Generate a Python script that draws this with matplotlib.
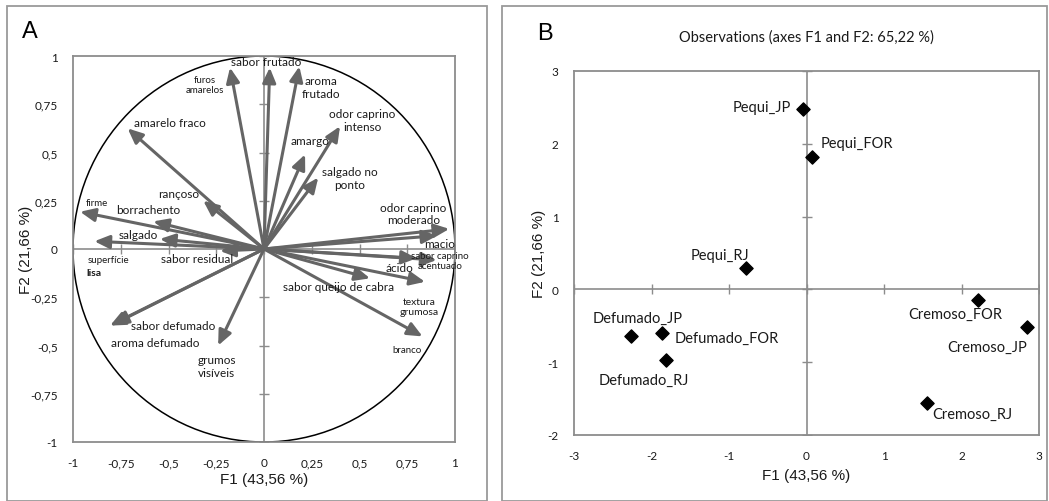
import numpy as np
import matplotlib
matplotlib.use("Agg")
import matplotlib.pyplot as plt
from matplotlib.patches import Rectangle, Circle

# variables (correlation circle) - arrow tips
var_names = ['sabor frutado', 'furos amarelos', 'aroma frutado', 'odor caprino intenso',
             'amargo', 'salgado no ponto', 'amarelo fraco', 'rançoso', 'firme',
             'borrachento', 'superfície lisa', 'salgado', 'sabor residual',
             'odor caprino moderado', 'macio', 'ácido', 'sabor caprino acentuado',
             'textura grumosa', 'sabor queijo de cabra', 'branco',
             'sabor defumado', 'aroma defumado', 'grumos visíveis']
var_f1 = [0.03, -0.178, 0.185, 0.398, 0.215, 0.284, -0.714, -0.318, -0.963,
          -0.58, -0.888, -0.545, -0.23, 0.97, 0.907, 0.80, 0.904, 0.843, 0.555,
          0.83, -0.79, -0.806, -0.24]
var_f2 = [0.94, 0.94, 0.946, 0.636, 0.49, 0.37, 0.625, 0.25, 0.193,
          0.143, 0.04, 0.052, -0.01, 0.104, 0.069, -0.048, -0.057, -0.17, -0.152,
          -0.453, -0.39, -0.397, -0.50]

# observations
obs_names = ['Pequi_JP', 'Pequi_FOR', 'Pequi_RJ', 'Defumado_JP', 'Defumado_FOR',
             'Defumado_RJ', 'Cremoso_FOR', 'Cremoso_JP', 'Cremoso_RJ']
obs_f1 = [-0.05, 0.07, -0.78, -2.27, -1.87, -1.81, 2.21, 2.84, 1.55]
obs_f2 = [2.48, 1.82, 0.30, -0.64, -0.60, -0.97, -0.14, -0.52, -1.56]

a_ticks = [-1, -0.75, -0.5, -0.25, 0, 0.25, 0.5, 0.75, 1]
a_ticklabels = ['-1', '-0,75', '-0,5', '-0,25', '0', '0,25', '0,5', '0,75', '1']
b_xticks = [-3, -2, -1, 0, 1, 2, 3]
b_yticks = [-2, -1, 0, 1, 2, 3]

# label placement (data coords) for panel A
lab_a = [
    ('sabor frutado', 0.01, 0.974, 8.5),
    ('furos\namarelos', -0.309, 0.85, 7),
    ('aroma\nfrutado', 0.298, 0.839, 8.5),
    ('odor caprino\nintenso', 0.516, 0.668, 8.5),
    ('amargo', 0.241, 0.561, 8.5),
    ('salgado no\nponto', 0.45, 0.368, 8.5),
    ('amarelo fraco', -0.492, 0.656, 8.5),
    ('rançoso', -0.449, 0.29, 8.5),
    ('firme', -0.876, 0.242, 7),
    ('borrachento', -0.606, 0.204, 8.5),
    ('salgado', -0.658, 0.074, 8.5),
    ('superfície', -0.815, -0.055, 7),
    ('sabor residual', -0.349, -0.048, 8.5),
    ('odor caprino\nmoderado', 0.782, 0.184, 8.5),
    ('macio', 0.921, 0.026, 8.5),
    ('sabor caprino\nacentuado', 0.921, -0.062, 7),
    ('ácido', 0.712, -0.095, 8.5),
    ('sabor queijo de cabra', 0.389, -0.193, 8.5),
    ('textura\ngrumosa', 0.813, -0.299, 7.5),
    ('sabor defumado', -0.475, -0.394, 8.5),
    ('aroma defumado', -0.571, -0.487, 8.5),
    ('grumos\nvisíveis', -0.248, -0.607, 8.5),
    ('branco', 0.747, -0.523, 7),
]
lab_b = [(-0.576, 2.506), (0.648, 2.01), (-1.117, 0.479), (-2.18, -0.395),
         (-1.03, -0.67), (-2.097, -1.246), (1.924, -0.335), (2.33, -0.795),
         (2.14, -1.715)]

lbl_font = ['Lato', 'DejaVu Sans']
ax_font = ['Liberation Sans', 'DejaVu Sans']
grey = '#8c8c8c'
arrow_col = '#656565'
txt_col = '#1a1a1a'

W, H = 1049, 502
fig = plt.figure(figsize=(W / 100, H / 100), dpi=100)
fig.patch.set_facecolor('white')

# panel borders
for x0, x1 in [(7, 487), (502, 1047)]:
    fig.patches.append(Rectangle((x0 / W, 0), (x1 - x0) / W, (H - 12) / H + 0.01,
                                 transform=fig.transFigure, fill=False,
                                 edgecolor='#9a9a9a', lw=1.3, clip_on=False))

# ---------------- panel A
axA = fig.add_axes([73 / W, (H - 443) / H, 382 / W, 386 / H])
axA.set_xlim(-1, 1)
axA.set_ylim(-1, 1)
axA.axhline(0, color=grey, lw=1.2, zorder=1)
axA.axvline(0, color=grey, lw=1.2, zorder=1)
axA.plot(a_ticks, np.zeros(len(a_ticks)), ls='none', marker='|', ms=7, color=grey, mew=1)
axA.plot(np.zeros(len(a_ticks)), a_ticks, ls='none', marker='_', ms=7, color=grey, mew=1)
axA.add_patch(Circle((0, 0), 1, fill=False, edgecolor='black', lw=1.1, zorder=2))
for fx, fy in zip(var_f1, var_f2):
    axA.annotate('', xy=(fx, fy), xytext=(0, 0),
                 arrowprops=dict(arrowstyle='-|>,head_length=0.9,head_width=0.4',
                                 color=arrow_col, lw=2.2, shrinkA=0, shrinkB=0,
                                 mutation_scale=10), zorder=3)
for txt, tx, ty, fs in lab_a:
    axA.text(tx, ty, txt, ha='center', va='center', fontsize=fs, family=lbl_font,
             color=txt_col, linespacing=1.15, zorder=4)
axA.text(-0.932, -0.124, 'lisa', ha='left', va='center', fontsize=7.5,
         fontweight='bold', family=lbl_font, color=txt_col)
axA.set_xticks(a_ticks)
axA.set_xticklabels(a_ticklabels, family=lbl_font, fontsize=8.5)
axA.set_yticks(a_ticks)
axA.set_yticklabels(a_ticklabels, family=lbl_font, fontsize=8.5)
axA.tick_params(length=0, pad=11, labelcolor=txt_col)
for s in axA.spines.values():
    s.set_color(grey)
    s.set_linewidth(1.3)
axA.set_xlabel('F1 (43,56 %)', family=ax_font, fontsize=11, labelpad=3, color=txt_col)
axA.set_ylabel('F2 (21,66 %)', family=ax_font, fontsize=11, labelpad=-2, color=txt_col)
fig.text(30 / W, 1 - 32 / H, 'A', family=ax_font, fontsize=17, ha='center', va='center')

# ---------------- panel B
axB = fig.add_axes([574 / W, (H - 436) / H, 465 / W, 364 / H])
axB.set_xlim(-3, 3)
axB.set_ylim(-2, 3)
axB.axhline(0, color=grey, lw=1.2, zorder=1)
axB.axvline(0, color=grey, lw=1.2, zorder=1)
axB.plot(b_xticks, np.zeros(len(b_xticks)), ls='none', marker='|', ms=7, color=grey, mew=1)
axB.plot(np.zeros(len(b_yticks)), b_yticks, ls='none', marker='_', ms=7, color=grey, mew=1)
axB.scatter(obs_f1, obs_f2, marker='D', s=45, color='black', zorder=3)
for name, (tx, ty) in zip(obs_names, lab_b):
    axB.text(tx, ty, name, ha='center', va='center', fontsize=10.5, family=lbl_font,
             color=txt_col)
axB.set_xticks(b_xticks)
axB.set_xticklabels([str(v) for v in b_xticks], family=lbl_font, fontsize=8.5)
axB.set_yticks(b_yticks)
axB.set_yticklabels([str(v) for v in b_yticks], family=lbl_font, fontsize=8.5)
axB.tick_params(length=0, pad=11, labelcolor=txt_col)
for s in axB.spines.values():
    s.set_color(grey)
    s.set_linewidth(1.3)
axB.set_xlabel('F1 (43,56 %)', family=ax_font, fontsize=11, labelpad=5, color=txt_col)
axB.set_ylabel('F2 (21,66 %)', family=ax_font, fontsize=11, labelpad=1, color=txt_col)
axB.set_title('Observations (axes F1 and F2: 65,22 %)', family=lbl_font, fontsize=10.5,
              pad=22, color=txt_col)
fig.text(545 / W, 1 - 34 / H, 'B', family=ax_font, fontsize=17, ha='center', va='center')

fig.savefig('out.png', dpi=100)
